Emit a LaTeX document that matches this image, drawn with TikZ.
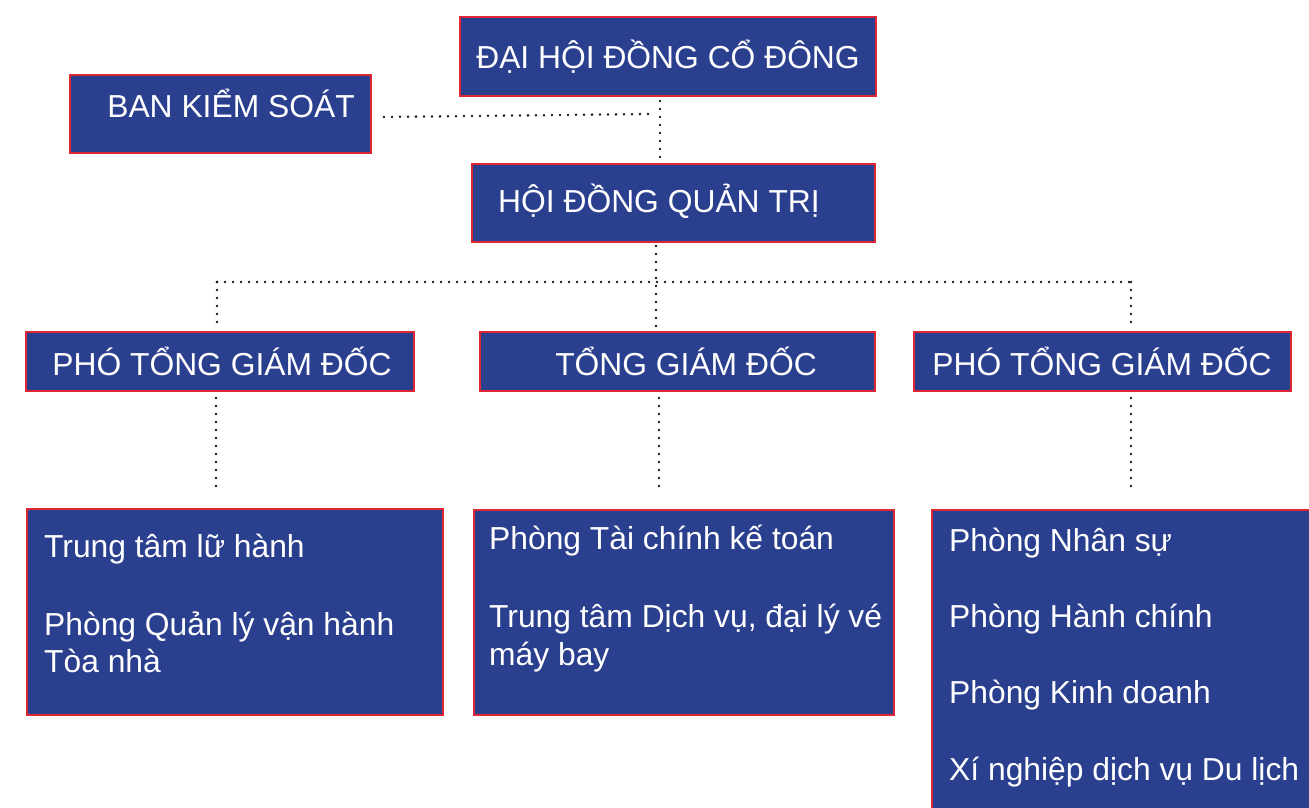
\documentclass[tikz,border=0pt]{standalone}
\usepackage{fontspec}
\setmainfont{Liberation Sans}
\definecolor{boxblue}{RGB}{43,63,143}
\definecolor{boxred}{RGB}{222,38,52}
\begin{document}
\begin{tikzpicture}[x=1pt,y=-1pt,
  orgbox/.style={draw=boxred,fill=boxblue,line width=2.4pt,inner sep=0pt},
  lbl/.style={text=white,inner sep=0pt,anchor=base west,font=\fontsize{31.8}{38}\selectfont},
  lblc/.style={text=white,inner sep=0pt,anchor=base,font=\fontsize{31.8}{38}\selectfont},
  dots/.style={draw=black!90,line width=2.8pt,line cap=round,dash pattern=on 0pt off 8pt}]
\useasboundingbox (0,0) rectangle (1309,808);
% boxes
\path[orgbox] (460,17) rectangle (876,96);
\path[orgbox] (70,75) rectangle (371,153);
\path[orgbox] (472,164) rectangle (875,242);
\path[orgbox] (26,332) rectangle (414,391);
\path[orgbox] (480,332) rectangle (875,391);
\path[orgbox] (914,332) rectangle (1291,391);
\path[orgbox] (27,509) rectangle (443,715);
\path[orgbox] (474,510) rectangle (894,715);
\path[orgbox] (932,510) rectangle (1315,815);
% labels
\node[lblc] (dhdcd) at (668,68) {ĐẠI HỘI ĐỒNG CỔ ĐÔNG};
\node[lblc] (bks) at (231,117) {BAN KIỂM SOÁT};
\node[lblc] (hdqt) at (659,212) {HỘI ĐỒNG QUẢN TRỊ};
\node[lblc] (ptgd1) at (222,375) {PHÓ TỔNG GIÁM ĐỐC};
\node[lblc] (tgd) at (686,375) {TỔNG GIÁM ĐỐC};
\node[lblc] (ptgd2) at (1102,375) {PHÓ TỔNG GIÁM ĐỐC};
\node[lbl] (a1) at (44,557) {Trung tâm lữ hành};
\node[lbl] (a2) at (44,635) {Phòng Quản lý vận hành};
\node[lbl] (a3) at (44,672) {Tòa nhà};
\node[lbl] (b1) at (489,549) {Phòng Tài chính kế toán};
\node[lbl] (b2) at (489,627) {Trung tâm Dịch vụ, đại lý vé};
\node[lbl] (b3) at (489,665) {máy bay};
\node[lbl] (c1) at (949,551) {Phòng Nhân sự};
\node[lbl] (c2) at (949,627) {Phòng Hành chính};
\node[lbl] (c3) at (949,703) {Phòng Kinh doanh};
\node[lbl] (c4) at (949,780) {Xí nghiệp dịch vụ Du lịch};
% connectors
\coordinate (p1) at (660,101);
\coordinate (p2) at (660,162);
\coordinate (k1) at (384,117);
\coordinate (k2) at (648,114);
\coordinate (h1) at (656,246);
\coordinate (h2) at (656,328);
\coordinate (l1) at (217,282);
\coordinate (r1) at (1131,282);
\coordinate (l2) at (217,328);
\coordinate (r2) at (1131,328);
\coordinate (d1a) at (216,398);
\coordinate (d1b) at (216,490);
\coordinate (d2a) at (659,398);
\coordinate (d2b) at (659,490);
\coordinate (d3a) at (1131,398);
\coordinate (d3b) at (1131,490);
\draw[dots] (p1) -- (p2);
\draw[dots] (k1) -- (k2);
\draw[dots] (h1) -- (h2);
\draw[dots] (l1) -- (r1);
\draw[dots] (l1) -- (l2);
\draw[dots] (r1) -- (r2);
\draw[dots] (d1a) -- (d1b);
\draw[dots] (d2a) -- (d2b);
\draw[dots] (d3a) -- (d3b);
\end{tikzpicture}
\end{document}
